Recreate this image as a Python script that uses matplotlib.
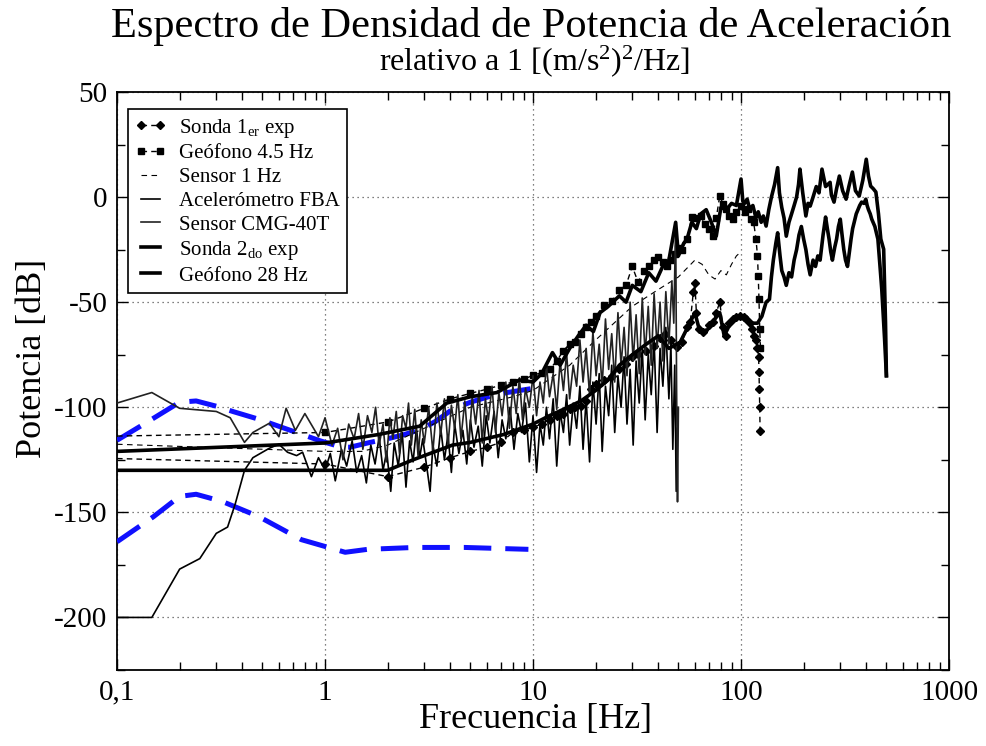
import numpy as np
import matplotlib
matplotlib.use("Agg")
import matplotlib.pyplot as plt
from matplotlib.ticker import FixedLocator, MultipleLocator, NullFormatter

plt.rcParams["font.family"] = ["Liberation Serif", "DejaVu Serif"]
plt.rcParams["mathtext.fontset"] = "custom"
plt.rcParams["mathtext.rm"] = "Liberation Serif"
plt.rcParams["mathtext.it"] = "Liberation Serif:italic"

# ---- data ----
# blue reference curves (no legend entry)
blue_hi_f  = [0.1, 0.14, 0.2, 0.24, 0.3, 0.36, 0.48, 0.66, 0.95, 1.2, 1.32, 1.65, 2.0, 2.4, 2.9, 3.4, 4.1, 5.0, 6.2, 7.5, 10]
blue_hi_db = [-115.7, -107, -97.6, -97, -99.5, -102, -105.7, -110.5, -116, -119, -119, -116.7, -115, -113, -110.5, -106.7, -101, -97.6, -94.8, -93, -91]
blue_lo_f  = [0.1, 0.15, 0.2, 0.24, 0.32, 0.48, 0.77, 1.25, 1.6, 2.7, 4.7, 9.5]
blue_lo_db = [-164, -152, -142.4, -141.4, -144.8, -152, -163, -169, -167.6, -166.7, -166.7, -167.6]

sonda1_f  = [0.1, 1, 2, 3, 4, 5, 6, 7, 8, 9, 10, 11, 12, 13, 14, 15, 16, 17, 18, 19, 20,
             22, 24, 26, 28, 30, 32, 35, 38, 41, 43, 46, 49, 52, 55, 57, 59, 60, 61, 63, 66,
             70, 73, 76, 79, 82, 85, 88, 91, 95, 99, 103, 106, 110, 113, 116, 118, 120,
             121.5, 122, 122.5, 123, 123.5]
sonda1_db = [-124.4, -127, -133, -128.5, -124, -121, -119, -116.7, -112, -111, -109.5, -108, -106,
             -104, -103, -101, -100, -99.5, -97, -91.4, -89,
             -87, -85, -82, -79.5, -76, -74.8, -73, -71, -67, -65, -68, -71.4, -69, -62, -59.5,
             -45, -41, -55, -63, -64, -61, -59.5, -55, -50, -62, -66, -60, -58, -57, -56.7,
             -57, -58, -60, -63, -66, -68, -72, -76, -83, -91.4, -100, -111.4]

geo45_f  = [0.1, 1, 2, 3, 4, 5, 6, 7, 8, 9, 10, 11, 12, 13, 14, 15, 16, 17, 18, 19, 20,
            22, 24, 26, 28, 30, 32, 34, 36, 38, 40, 42, 44, 46, 48, 50, 52, 55, 58, 61, 64,
            67, 70, 73, 76, 79, 82, 85, 88, 91, 95, 100, 104, 108, 112, 115, 118, 120,
            121, 122, 123, 124]
geo45_db = [-113.7, -112, -107, -100.5, -96, -93.4, -91.4, -89.5, -88, -86.7, -84.8, -83.5, -82,
            -78, -73, -70, -69, -65, -62, -59.5, -56.7,
            -51.4, -49.5, -44, -42, -33, -40.5, -35, -33, -30, -28.6, -31, -33, -30, -27, -24,
            -25, -20, -9.5, -10, -9, -13, -15, -18.6, -10, 0.5, -3.3, -5.7, -9, -10.5, -7,
            -4.3, -7, -5.7, -10.5, -12, -20, -28, -37.6, -48.6, -63, -72]

sensor1_f  = [0.1, 1, 1.5, 2, 3, 5, 8, 10, 15, 20, 30, 40, 50, 60, 65, 70, 75, 80, 85, 90, 95, 100]
sensor1_db = [-117.6, -121, -121, -118, -110, -100, -95, -92, -80, -68, -52, -44, -38, -30,
              -32, -37, -39, -35, -37, -32, -28, -26]

fba_f  = [0.1, 0.147, 0.2, 0.25, 0.3, 0.34, 0.37, 0.41, 0.45, 0.54, 0.6, 0.66, 0.73, 0.78, 0.86, 0.93,
          1.0, 1.06, 1.12, 1.2, 1.27, 1.35, 1.42, 1.5, 1.58, 1.66, 1.74, 1.82, 1.9, 1.98, 2.07,
          2.15, 2.25, 2.35, 2.45, 2.55, 2.65, 2.75, 2.85, 2.95,
          3.1, 3.2, 3.3, 3.45, 3.6, 3.75, 3.9, 4.05, 4.2, 4.4, 4.6, 4.8, 5.0, 5.2, 5.45, 5.7,
          5.95, 6.2, 6.5, 6.8, 7.1, 7.4, 7.75, 8.1, 8.45, 8.8, 9.2, 9.6, 10.0,
          10.4, 10.8, 11.2, 11.6, 12.0, 12.5, 13.0, 13.5, 14.0, 14.5, 15.0, 15.6, 16.2, 16.8,
          17.4, 18.0, 18.7, 19.4, 20.1, 20.8, 21.5, 22.3, 23.1, 23.9, 24.7, 25.6, 26.5, 27.4,
          28.3, 29.3, 30.3, 31.3, 32.4, 33.5, 34.6, 35.8, 37.0, 38.2, 39.5, 40.8, 42.1, 43.5,
          45.0, 46.0, 47.0, 48.0, 48.8, 49.3]
fba_db = [-200, -200, -177, -172, -160, -157, -146, -130, -124, -119.5, -117.6, -121.4, -123, -121.4,
          -133, -124,
          -130, -122, -135, -120, -128, -116, -131, -123, -136, -118, -127, -114, -130, -121, -140,
          -117, -128, -112, -138, -116, -126, -110, -124, -115,
          -130, -140, -118, -128, -110, -125, -113, -131, -108, -122, -111, -127, -106, -119,
          -109, -128, -104, -117, -102, -124, -106, -115, -100, -120, -103, -112, -98, -126, -104,
          -131, -108, -118, -100, -115, -96, -128, -102, -112, -94, -118, -98, -110, -90,
          -120, -96, -126, -88, -108, -84, -121, -90, -104, -80, -112, -85, -100, -76,
          -108, -82, -118, -78, -98, -72, -106, -75, -94, -68, -112, -72, -90, -62,
          -96, -70, -120, -80, -140, -110]

cmg_f  = [0.1, 0.147, 0.2, 0.3, 0.35, 0.41, 0.45, 0.54, 0.6, 0.65, 0.72, 0.8, 0.93,
          1.0, 1.08, 1.15, 1.22, 1.3, 1.38, 1.45, 1.52, 1.6, 1.68, 1.75, 1.82, 1.9, 1.97,
          2.05, 2.12, 2.2, 2.28, 2.36, 2.45, 2.52, 2.6, 2.7, 2.8, 2.9, 3.0,
          3.15, 3.3, 3.45, 3.6, 3.75, 3.9, 4.05, 4.2, 4.35, 4.5, 4.7, 4.9, 5.1, 5.3, 5.5, 5.7,
          5.9, 6.1, 6.35, 6.6, 6.85, 7.1, 7.4, 7.7, 8.0, 8.3, 8.6, 8.9, 9.2, 9.6, 10.0,
          10.4, 10.8, 11.2, 11.6, 12.0, 12.5, 13.0, 13.5, 14.0, 14.5, 15.0, 15.6, 16.2, 16.8,
          17.4, 18.0, 18.7, 19.4, 20.1, 20.8, 21.5, 22.3, 23.1, 23.9, 24.7, 25.6, 26.5, 27.4,
          28.3, 29.3, 30.3, 31.3, 32.4, 33.5, 34.6, 35.8, 37.0, 38.2, 39.5, 40.8, 42.1, 43.5,
          45.0, 46.5, 47.5, 48.5, 49.0, 49.5, 50.0]
cmg_db = [-98, -93, -100.5, -102, -105, -116.7, -112, -107.6, -114, -100.5, -111, -103, -114,
          -105, -118, -110, -125, -108, -115, -103, -120, -104, -112, -100, -118, -108, -126,
          -105, -115, -102, -122, -104, -110, -98, -118, -101, -123, -106, -117,
          -100, -121, -98, -113, -96, -118, -99, -110, -94, -115, -97, -120, -95, -108, -92, -117,
          -96, -106, -90, -112, -93, -104, -88, -110, -90, -103, -86, -106, -91, -100, -85,
          -104, -88, -98, -80, -95, -84, -101, -78, -92, -74, -96, -80, -90, -68,
          -88, -72, -94, -64, -85, -70, -90, -58, -82, -65, -88, -55, -80, -62,
          -85, -50, -78, -56, -84, -48, -75, -52, -80, -46, -72, -50, -78, -45,
          -70, -40, -60, -12, -90, -145, -100]

sonda2_f  = [0.1, 1.0, 1.8, 2.85, 3.85, 5.0, 6.7, 8.6, 10, 11, 12.4, 13.5, 15, 16.5, 18, 19.5, 21,
             23, 26, 28, 30, 33, 36, 39, 42, 45, 48.5, 50, 53, 55, 58, 61, 64, 68, 72, 76, 80,
             85, 90, 95, 100, 102, 104, 107, 110, 114, 118, 121, 125, 128, 132, 136, 140, 145,
             150, 153, 157, 161, 165, 170, 175, 180, 185, 189, 192, 198, 205, 210, 215, 222,
             230, 237, 245, 255, 268, 272, 280, 288, 297, 308, 320, 330, 343, 355, 370, 385,
             400, 410, 420, 432, 445, 458, 470, 485, 495, 500]
sonda2_db = [-121, -117, -113, -109, -98, -95, -93, -87, -88, -84, -74, -80, -72, -66, -61, -64,
             -55, -52, -47, -50, -42, -45, -36, -40, -33, -30, -12, -28, -22, -20, -12, -15, -8,
             -6, -12, -18.6, -5, -6, -3, -4, 8.6, -2, -3, -1, -5.7, -4, -10, -7, -12, -9,
             -13.8, -6, 0, 6, 14, 2, -5, -10, -18.6, -12, -8, -4, 0, 6, 13.3, 2, -9, -3,
             -4.3, 0, 5, 2, 13.3, 5, 7, 1, -2.4, 4, 10, 3, -1, 5, 11.9, 3, 0.5, 8,
             18, 10, 5.2, 4, 2.4, -8, -20, -24.8, -59.5, -85]

geo28_f  = [0.1, 2.0, 2.65, 4.1, 5.0, 7.2, 10, 12, 14, 17, 20, 23, 26, 30, 35, 40, 45, 51, 57,
            60, 63, 68, 73, 79, 83, 91, 99, 106, 113, 120, 126, 132, 137, 140, 143, 147, 150,
            154, 157, 161, 165, 170, 175, 180, 185, 190, 195, 200, 205, 210, 215, 222, 228,
            234, 240, 248, 255, 260, 265, 270, 275, 282, 288, 294, 300, 306, 312, 318, 325,
            332, 338, 344, 350, 358, 365, 372, 380, 390, 398, 404, 410, 418, 425, 440, 455,
            465, 475, 482, 490, 500]
geo28_db = [-130, -130, -125, -118, -116.7, -113, -108, -104, -101, -97, -92, -87, -80, -75, -70,
            -66, -72, -69, -59.5, -55, -63, -64, -59.5, -55, -66, -58, -57, -58, -60, -60,
            -56.7, -50, -48.6, -38, -30, -22, -17, -28, -35, -38, -42, -36, -38, -30, -25,
            -18, -14, -20, -25, -32, -37, -30, -33, -28, -30, -18, -9.5, -15, -20, -26, -30,
            -24, -20, -14, -10.5, -18, -25, -30, -33, -26, -20, -15, -12, -8, -6, -4, -2.4,
            -3, -1, -4, -6, -8, -10.5, -14, -20, -32, -44, -55, -67.6, -85]

x_ticks = [0.1, 1, 10, 100, 1000]
x_ticklabels = ["0,1", "1", "10", "100", "1000"]
y_ticks = [-200, -150, -100, -50, 0, 50]
y_ticklabels = ["-200", "-150", "-100", "-50", "0", "50"]

# ---- figure ----
fig = plt.figure(figsize=(9.86, 7.46), dpi=100)
ax = fig.add_axes([0.1187, 0.1019, 0.8438, 0.7748])

ax.plot(blue_hi_f, blue_hi_db, color="#1010ff", lw=3.6, dashes=(5.5, 2.8), zorder=3)
ax.plot(blue_lo_f, blue_lo_db, color="#1010ff", lw=3.6, dashes=(5.5, 2.8), zorder=3)

ax.plot(sonda1_f, sonda1_db, color="black", lw=1.0, ls=(0, (4, 3)), marker="D", ms=4.5,
        markevery=slice(1, None), label=r"Sonda 1$_{\mathrm{er}}$ exp", zorder=4)
ax.plot(geo45_f, geo45_db, color="black", lw=1.0, ls=(0, (4, 3)), marker="s", ms=5,
        markevery=slice(1, None), label="Geófono 4.5 Hz", zorder=4)
ax.plot(sensor1_f, sensor1_db, color="black", lw=0.8, ls=(0, (5, 4)), label="Sensor 1 Hz", zorder=4)
ax.plot(fba_f, fba_db, color="black", lw=1.2, label="Acelerómetro FBA", zorder=4)
ax.plot(cmg_f, cmg_db, color="#222222", lw=1.2, label="Sensor CMG-40T", zorder=4)
ax.plot(sonda2_f, sonda2_db, color="black", lw=2.6, label=r"Sonda 2$_{\mathrm{do}}$ exp", zorder=4)
ax.plot(geo28_f, geo28_db, color="black", lw=2.6, label="Geófono 28 Hz", zorder=4)

ax.set_xscale("log")
ax.set_xlim(0.1, 1000)
ax.set_ylim(-225, 50)

ax.xaxis.set_major_locator(FixedLocator(x_ticks))
ax.set_xticklabels(x_ticklabels)
ax.xaxis.set_minor_formatter(NullFormatter())
ax.set_yticks(y_ticks)
ax.set_yticklabels(y_ticklabels)
ax.yaxis.set_minor_locator(MultipleLocator(25))

ax.tick_params(which="both", direction="in", top=True, right=True, width=1.0)
ax.tick_params(which="major", length=8, labelsize=21, pad=7)
ax.tick_params(which="minor", length=6)

ax.grid(True, which="major", ls=(0, (1, 3)), color="#555555", lw=0.9)
ax.set_axisbelow(True)
for s in ax.spines.values():
    s.set_linewidth(1.3)

leg = ax.legend(loc="upper left", bbox_to_anchor=(0.013, 0.97), borderaxespad=0,
                fontsize=15, handlelength=1.5, numpoints=2, frameon=True, fancybox=False,
                labelspacing=0.2, borderpad=0.35, handletextpad=0.6)
leg.get_frame().set_edgecolor("black")
leg.get_frame().set_linewidth(1.2)
leg.get_frame().set_alpha(1)

fig.text(0.539, 0.965, "Espectro de Densidad de Potencia de Aceleración",
         ha="center", va="center", fontsize=30.5)
fig.text(0.542, 0.918, r"relativo a 1 [(m/s$^2$)$^2$/Hz]", ha="center", va="center", fontsize=23)
fig.text(0.033, 0.52, "Potencia [dB]", rotation=90, ha="center", va="center", fontsize=26)
fig.text(0.543, 0.035, "Frecuencia [Hz]", ha="center", va="center", fontsize=26)

fig.savefig("out.png", dpi=100)
